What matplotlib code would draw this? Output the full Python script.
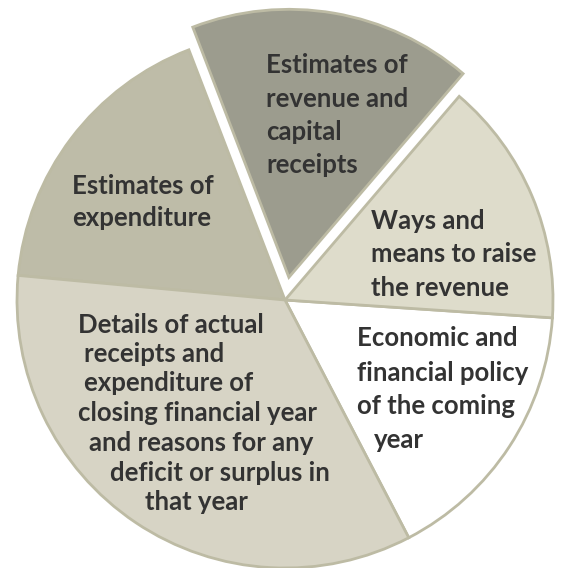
import matplotlib.pyplot as plt
import numpy as np

plt.rcParams.update({
    "font.family": ["Lato", "DejaVu Sans"],
})

# slice shares (degrees -> percent)
labels = ["Economic and financial policy", "Ways and means",
          "Revenue and capital receipts", "Expenditure", "Details of actual"]
shares = [16.3, 14.8, 17.1, 17.7, 34.1]
colors = ["#ffffff", "#dedccb", "#9c9c8e", "#bebca8", "#d7d4c5"]
explode_px = [0, 0, 23, 0, 0]

# text lines: (text, left x px, baseline y px from top)
text_lines = [
    ("Estimates of", 266, 73), ("revenue and", 266, 107),
    ("capital", 266, 140), ("receipts", 266, 173),
    ("Ways and", 371, 229), ("means to raise", 371, 262), ("the revenue", 371, 296),
    ("Economic and", 357, 346), ("financial policy", 357, 381),
    ("of the coming", 357, 414), ("year", 374, 448),
    ("Estimates of", 72, 194), ("expenditure", 72, 226),
    ("Details of actual", 78, 333), ("receipts and", 84, 362),
    ("expenditure of", 84, 391), ("closing financial year", 78, 421),
    ("and reasons for any", 89, 451), ("deficit or surplus in", 110, 481),
    ("that year", 145, 510),
]

W, H = 563, 568
fig = plt.figure(figsize=(W / 100, H / 100), dpi=100)
ax = fig.add_axes([0, 0, 1, 1])
ax.set_aspect("equal")
ax.axis("off")

# pie explode is in data units here (pixels)
ax.pie(shares, colors=colors, explode=explode_px, startangle=-62.5,
       counterclock=True, center=(285, H - 300), radius=268,
       wedgeprops=dict(edgecolor="#bdbba4", linewidth=2))
ax.set_xlim(0, W)
ax.set_ylim(0, H)

for txt, x, y in text_lines:
    ax.text(x, H - y, txt, ha="left", va="baseline", fontsize=18.5,
            fontweight="bold", color="#333333")

fig.savefig("out.png", dpi=100)
